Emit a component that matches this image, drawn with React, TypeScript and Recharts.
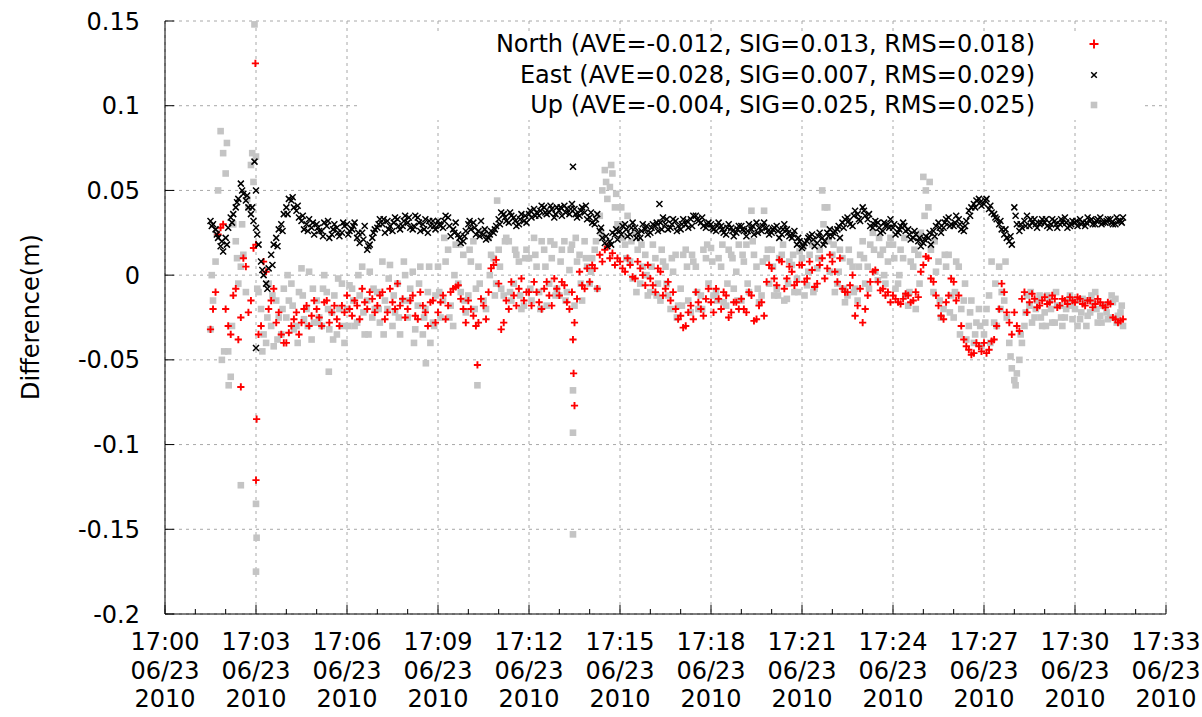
import { ScatterChart, Scatter, XAxis, YAxis, CartesianGrid } from "recharts";

// interleaved sample sets, each every 10 s; set A from 17:01:30, set B 5 s later, set C 2.5 s later
const startSec = 90;
const stepSec = 10;
const offsetB = 5;
const offsetC = 2.5;

const north = [
  -0.032, -0.010, 0.028,
  -0.020, -0.035, -0.008, -0.025, 0.005, -0.015,
  0.018, -0.030, 0.002, -0.015, -0.028, -0.035,
  -0.040, -0.030, -0.022, -0.028, -0.018, -0.024,
  -0.020, -0.030, -0.015, -0.022, -0.026, -0.018,
  -0.012, -0.024, -0.018, -0.008, -0.020, -0.014,
  -0.018, -0.010, -0.022, -0.016, -0.005, -0.014,
  -0.020, -0.012, -0.026, -0.018, -0.030, -0.015,
  -0.022, -0.012, -0.018, -0.008, -0.006, -0.020,
  -0.015, -0.024, -0.028, -0.018, -0.010, 0.006,
  -0.005, -0.028, -0.020, -0.012, -0.008, -0.015,
  -0.010, -0.004, -0.016, -0.008, -0.012, -0.002,
  -0.012, -0.006, -0.020, -0.028, 0.002, -0.008,
  -0.004, 0.004, 0.012, 0.015, 0.010, 0.006,
  0.008, 0.002, 0.006, -0.002, 0.004, -0.006,
  -0.002, -0.010, 0.002, -0.008, -0.015, -0.020,
  -0.024, -0.030, -0.018, -0.010, -0.020, -0.014,
  -0.016, -0.008, -0.020, -0.012, -0.022, -0.016,
  -0.014, -0.022, -0.012, -0.026, -0.016, -0.004,
  0.004, -0.006, 0.008, -0.002, 0.002, -0.004,
  0.006, -0.002, 0.003, -0.005, 0.010, 0.004,
  0.008, -0.004, -0.008, -0.010, 0.000, -0.018,
  -0.028, -0.012, 0.002, -0.004, -0.008, -0.010,
  -0.012, -0.016, -0.014, -0.012, -0.015, -0.013,
  0.006, 0.010, -0.004, -0.018, -0.026, -0.012,
  -0.004, -0.012, -0.038, -0.044, -0.046, -0.042,
  -0.040, -0.044, -0.038, -0.020, -0.010, -0.028,
  -0.022, -0.033, -0.010, -0.016, -0.014, -0.018,
  -0.013, -0.016, -0.014, -0.018, -0.015, -0.013,
  -0.016, -0.014, -0.018, -0.015, -0.017, -0.016,
  -0.019, -0.017, -0.026, -0.027,
];

const northB = [
  -0.020, 0.024, 0.030,
  -0.030, -0.012, -0.038, 0.010, -0.022, 0.016,
  -0.035, 0.008, -0.020, -0.008, -0.022, -0.040,
  -0.034, -0.026, -0.035, -0.020, -0.030, -0.015,
  -0.025, -0.016, -0.028, -0.018, -0.030, -0.022,
  -0.020, -0.015, -0.026, -0.016, -0.010, -0.022,
  -0.012, -0.026, -0.008, -0.020, -0.018, -0.025,
  -0.015, -0.024, -0.010, -0.022, -0.016, -0.028,
  -0.016, -0.026, -0.010, -0.007, -0.014, -0.028,
  -0.020, -0.030, -0.014, -0.026, 0.004, 0.009,
  -0.032, -0.015, -0.004, -0.018, -0.002, -0.010,
  -0.018, -0.010, -0.020, -0.004, -0.018, -0.008,
  -0.004, -0.016, -0.010, -0.014, -0.006, 0.004,
  0.006, -0.008, 0.008, 0.017, 0.013, 0.010,
  0.004, 0.010, -0.001, 0.008, 0.000, 0.006,
  -0.006, 0.004, -0.012, -0.004, -0.010, -0.026,
  -0.031, -0.022, -0.026, -0.016, -0.024, -0.008,
  -0.022, -0.014, -0.010, -0.025, -0.016, -0.020,
  -0.020, -0.010, -0.027, -0.018, -0.024, 0.006,
  -0.002, 0.009, -0.008, 0.005, -0.006, 0.006,
  -0.004, 0.008, -0.007, 0.006, -0.002, 0.012,
  0.002, 0.010, -0.010, -0.006, -0.024, -0.008,
  -0.020, -0.004, 0.003, -0.009, -0.012, -0.016,
  -0.014, -0.017, -0.011, -0.016, -0.010, 0.002,
  0.011, -0.002, -0.012, -0.024, -0.016, -0.002,
  -0.015, -0.030, -0.042, -0.047, -0.040, -0.045,
  -0.046, -0.039, -0.030, -0.005, -0.022, -0.035,
  -0.030, -0.014, -0.022, -0.011, -0.019, -0.015,
  -0.017, -0.012, -0.019, -0.014, -0.017, -0.015,
  -0.013, -0.017, -0.015, -0.019, -0.014, -0.018,
  -0.016, -0.025, -0.028, -0.026,
];

const east = [
  0.032, 0.027, 0.017,
  0.022, 0.034, 0.040, 0.054, 0.044, 0.036,
  0.028, 0.008, -0.005, 0.012, 0.022, 0.030,
  0.040, 0.044, 0.038, 0.032, 0.030, 0.028,
  0.030, 0.026, 0.029, 0.024, 0.028, 0.025,
  0.030, 0.027, 0.022, 0.025, 0.015, 0.022,
  0.028, 0.030, 0.032, 0.026, 0.033, 0.029,
  0.031, 0.027, 0.034, 0.030, 0.025, 0.032,
  0.032, 0.028, 0.034, 0.027, 0.024, 0.020,
  0.030, 0.031, 0.026, 0.024, 0.022, 0.025,
  0.033, 0.036, 0.031, 0.034, 0.030, 0.032,
  0.036, 0.039, 0.035, 0.040, 0.037, 0.034,
  0.038, 0.041, 0.036, 0.039, 0.035, 0.037,
  0.034, 0.030, 0.026, 0.019, 0.020, 0.024,
  0.026, 0.030, 0.024, 0.028, 0.022, 0.027,
  0.025, 0.029, 0.031, 0.030, 0.028, 0.032,
  0.027, 0.030, 0.033, 0.035, 0.031, 0.028,
  0.030, 0.026, 0.029, 0.024, 0.028, 0.025,
  0.029, 0.023, 0.027, 0.031, 0.026, 0.028,
  0.025, 0.029, 0.024, 0.027, 0.022, 0.018,
  0.016, 0.020, 0.024, 0.019, 0.022, 0.025,
  0.023, 0.027, 0.031, 0.034, 0.029, 0.036,
  0.040, 0.033, 0.028, 0.031, 0.026, 0.030,
  0.028, 0.025, 0.031, 0.027, 0.022, 0.020,
  0.019, 0.022, 0.026, 0.031, 0.028, 0.034,
  0.029, 0.033, 0.026, 0.038, 0.042, 0.045,
  0.042, 0.039, 0.036, 0.030, 0.024, 0.020,
  0.040, 0.026, 0.032, 0.029, 0.033, 0.030,
  0.031, 0.028, 0.032, 0.030, 0.034, 0.029,
  0.031, 0.033, 0.029, 0.032, 0.030, 0.034,
  0.031, 0.033, 0.030, 0.032,
];

const eastB = [
  0.030, 0.022, 0.014,
  0.028, 0.036, 0.045, 0.048, 0.040, 0.032,
  0.018, 0.000, 0.004, 0.018, 0.027, 0.036,
  0.045, 0.040, 0.034, 0.027, 0.033, 0.024,
  0.026, 0.031, 0.022, 0.030, 0.023, 0.029,
  0.026, 0.031, 0.019, 0.029, 0.018, 0.027,
  0.033, 0.025, 0.029, 0.034, 0.027, 0.035,
  0.028, 0.035, 0.026, 0.033, 0.029, 0.027,
  0.029, 0.035, 0.023, 0.031, 0.019, 0.026,
  0.027, 0.024, 0.032, 0.021, 0.026, 0.029,
  0.037, 0.032, 0.035, 0.029, 0.036, 0.031,
  0.034, 0.037, 0.041, 0.036, 0.039, 0.040,
  0.035, 0.039, 0.042, 0.034, 0.040, 0.033,
  0.031, 0.036, 0.022, 0.017, 0.025, 0.021,
  0.029, 0.023, 0.031, 0.025, 0.030, 0.024,
  0.030, 0.026, 0.034, 0.027, 0.033, 0.029,
  0.033, 0.028, 0.035, 0.032, 0.029, 0.031,
  0.027, 0.031, 0.025, 0.030, 0.023, 0.029,
  0.026, 0.030, 0.024, 0.028, 0.031, 0.024,
  0.028, 0.022, 0.030, 0.023, 0.026, 0.020,
  0.019, 0.023, 0.017, 0.025, 0.020, 0.027,
  0.026, 0.022, 0.033, 0.030, 0.038, 0.032,
  0.035, 0.029, 0.032, 0.025, 0.029, 0.033,
  0.024, 0.029, 0.026, 0.021, 0.024, 0.017,
  0.023, 0.018, 0.029, 0.025, 0.033, 0.030,
  0.035, 0.027, 0.032, 0.040, 0.044, 0.041,
  0.045, 0.037, 0.033, 0.027, 0.022, 0.018,
  0.030, 0.028, 0.035, 0.031, 0.028, 0.033,
  0.029, 0.033, 0.028, 0.031, 0.028, 0.032,
  0.029, 0.031, 0.034, 0.030, 0.033, 0.031,
  0.033, 0.030, 0.032, 0.034,
];

const eastC = [
  0.029, 0.024, 0.020,
  0.018, 0.031, 0.043, 0.050, 0.047, 0.040,
  0.024, 0.003, -0.008, 0.006, 0.017, 0.026,
  0.036, 0.046, 0.041, 0.035, 0.026, 0.031,
  0.028, 0.023, 0.032, 0.027, 0.025, 0.031,
  0.024, 0.029, 0.025, 0.021, 0.017, 0.025,
  0.030, 0.033, 0.027, 0.031, 0.029, 0.032,
  0.034, 0.029, 0.031, 0.027, 0.032, 0.029,
  0.030, 0.032, 0.029, 0.025, 0.022, 0.023,
  0.032, 0.028, 0.023, 0.027, 0.024, 0.027,
  0.030, 0.034, 0.037, 0.032, 0.033, 0.035,
  0.038, 0.035, 0.038, 0.037, 0.041, 0.036,
  0.040, 0.037, 0.039, 0.036, 0.038, 0.041,
  0.037, 0.033, 0.028, 0.023, 0.018, 0.027,
  0.024, 0.027, 0.028, 0.022, 0.026, 0.029,
  0.028, 0.031, 0.027, 0.033, 0.030, 0.026,
  0.030, 0.032, 0.029, 0.033, 0.034, 0.030,
  0.028, 0.029, 0.027, 0.028, 0.026, 0.027,
  0.027, 0.026, 0.029, 0.025, 0.029, 0.026,
  0.027, 0.026, 0.027, 0.025, 0.024, 0.022,
  0.017, 0.022, 0.021, 0.023, 0.018, 0.023,
  0.025, 0.029, 0.028, 0.032, 0.035, 0.033,
  0.038, 0.036, 0.030, 0.028, 0.031, 0.028,
  0.030, 0.027, 0.029, 0.024, 0.026, 0.022,
  0.021, 0.025, 0.023, 0.028, 0.031, 0.029,
  0.031, 0.030, 0.029, 0.035, 0.040, 0.043,
  0.044, 0.041, 0.034, 0.032, 0.027, 0.023,
  0.035, 0.030, 0.029, 0.033, 0.030, 0.031,
  0.033, 0.030, 0.030, 0.033, 0.031, 0.030,
  0.032, 0.030, 0.031, 0.033, 0.032, 0.030,
  0.032, 0.031, 0.034, 0.031,
];

const up = [
  -0.032, 0.008, 0.085,
  0.060, -0.060, 0.020, 0.005, -0.010, 0.065,
  0.070, -0.020, -0.040, -0.030, -0.015, -0.035,
  -0.025, -0.005, -0.030, 0.004, -0.020, -0.038,
  -0.015, -0.030, -0.010, -0.022, -0.035, -0.005,
  -0.020, -0.008, -0.028, 0.005, -0.015, -0.025,
  -0.010, 0.008, -0.020, -0.030, -0.005, -0.015,
  -0.025, 0.002, -0.018, -0.035, -0.010, -0.028,
  0.005, -0.015, 0.015, -0.030, -0.005, 0.012,
  -0.012, 0.020, 0.005, -0.015, 0.022, 0.010,
  0.015, -0.012, 0.020, -0.005, 0.008, -0.018,
  0.010, 0.022, -0.010, 0.015, -0.005, 0.018,
  -0.012, 0.020, 0.003, -0.018, 0.012, 0.020,
  -0.005, 0.015, 0.035, 0.062, 0.052, 0.040,
  0.030, 0.018, 0.008, 0.025, -0.005, 0.012,
  -0.010, 0.010, -0.015, 0.005, -0.020, 0.012,
  -0.008, 0.015, -0.022, 0.005, -0.012, 0.010,
  0.016, -0.010, 0.005, -0.018, 0.012, 0.002,
  -0.015, 0.018, 0.038, 0.005, -0.012, 0.010,
  0.015, -0.008, 0.012, -0.014, 0.006, -0.002,
  0.010, -0.006, 0.018, 0.004, 0.050, 0.040,
  0.012, -0.005, 0.010, -0.012, 0.005, -0.015,
  0.020, 0.005, 0.025, -0.003, 0.015, 0.008,
  0.018, -0.005, 0.010, -0.018, 0.005, 0.012,
  0.058, 0.040, -0.010, 0.008, -0.020, 0.012,
  -0.025, 0.005, -0.015, -0.030, -0.040, -0.020,
  -0.035, -0.012, -0.028, 0.005, -0.015, -0.040,
  -0.062, -0.050, -0.030, -0.018, -0.025, -0.012,
  -0.022, -0.015, -0.028, -0.018, -0.025, -0.012,
  -0.020, -0.026, -0.015, -0.022, -0.010, -0.024,
  -0.018, -0.025, -0.014, -0.022,
];

const upB = [
  -0.015, 0.050, 0.072,
  -0.045, 0.030, -0.005, 0.012, 0.040, 0.055,
  -0.010, -0.035, -0.005, -0.042, -0.025, -0.008,
  -0.015, -0.032, -0.010, -0.026, 0.002, -0.028,
  -0.025, 0.000, -0.032, -0.012, -0.020, -0.040,
  -0.006, -0.030, -0.012, -0.035, 0.002, -0.020,
  -0.028, -0.015, 0.006, -0.022, -0.035, 0.000,
  -0.008, -0.032, 0.005, -0.020, -0.040, -0.012,
  -0.025, 0.008, -0.018, 0.018, -0.010, -0.022,
  0.008, -0.008, 0.025, -0.020, 0.012, -0.005,
  -0.008, 0.022, -0.015, 0.012, -0.020, 0.015,
  -0.015, 0.005, 0.020, -0.018, 0.010, -0.008,
  0.015, -0.010, 0.018, 0.008, -0.015, 0.005,
  0.010, -0.008, 0.050, 0.045, 0.060, 0.030,
  0.022, 0.035, -0.002, 0.015, 0.005, -0.012,
  0.018, -0.005, 0.008, -0.012, 0.002, -0.018,
  0.012, -0.015, 0.008, -0.020, 0.015, -0.005,
  -0.012, 0.010, -0.016, 0.015, -0.008, 0.018,
  0.008, -0.010, 0.012, -0.016, 0.038, -0.005,
  -0.012, 0.010, -0.015, 0.008, -0.010, 0.014,
  -0.012, 0.012, -0.008, 0.015, 0.040, 0.002,
  -0.010, 0.015, -0.016, 0.008, -0.008, 0.012,
  -0.005, 0.018, 0.002, 0.012, -0.005, 0.022,
  -0.008, 0.015, -0.012, 0.008, -0.020, 0.025,
  0.050, 0.015, 0.002, -0.025, 0.005, -0.012,
  0.008, -0.020, -0.038, -0.015, -0.028, -0.042,
  -0.020, 0.008, -0.030, -0.010, -0.025, -0.055,
  -0.058, -0.040, -0.012, -0.028, -0.015, -0.030,
  -0.012, -0.028, -0.018, -0.030, -0.015, -0.026,
  -0.030, -0.014, -0.024, -0.016, -0.028, -0.018,
  -0.026, -0.016, -0.024, -0.030,
];

const upC = [
  0.000, 0.025, -0.050,
  0.078, -0.030, 0.010, 0.030, 0.045, 0.072,
  -0.008, -0.045, -0.025, -0.012, -0.038, -0.020,
  0.000, -0.018, -0.040, -0.012, -0.030, -0.008,
  -0.028, -0.008, -0.020, -0.038, -0.002, -0.030,
  -0.030, -0.015, 0.000, -0.022, -0.035, -0.008,
  -0.020, -0.035, -0.002, -0.012, -0.025, 0.008,
  -0.015, -0.040, -0.005, -0.025, 0.005, -0.030,
  -0.010, 0.022, -0.025, 0.000, 0.018, -0.015,
  0.015, -0.020, -0.005, 0.025, 0.000, -0.012,
  0.005, 0.020, -0.010, 0.015, -0.012, 0.010,
  -0.008, 0.012, -0.020, 0.005, 0.020, -0.012,
  0.008, -0.015, 0.015, 0.022, -0.005, 0.010,
  0.002, 0.020, 0.025, 0.055, 0.065, 0.048,
  0.040, 0.010, 0.020, -0.010, 0.018, 0.000,
  0.005, -0.012, 0.015, -0.005, 0.010, -0.025,
  -0.018, 0.005, 0.012, -0.010, -0.020, 0.018,
  0.008, -0.015, 0.018, -0.005, 0.010, -0.015,
  0.012, -0.005, 0.020, -0.008, 0.008, 0.015,
  0.005, -0.012, 0.018, -0.005, 0.012, -0.010,
  0.018, 0.002, -0.010, 0.010, 0.030, 0.020,
  0.018, 0.002, -0.008, 0.015, -0.010, 0.005,
  0.010, -0.008, 0.015, 0.022, 0.000, 0.018,
  0.010, 0.000, 0.022, -0.010, 0.015, -0.005,
  0.035, 0.055, 0.020, -0.015, 0.012, -0.022,
  -0.010, -0.035, -0.005, -0.022, -0.035, -0.030,
  -0.028, -0.040, -0.005, -0.020, 0.008, -0.048,
  -0.065, -0.035, -0.022, -0.010, -0.020, -0.025,
  -0.030, -0.020, -0.010, -0.025, -0.020, -0.018,
  -0.015, -0.022, -0.030, -0.012, -0.020, -0.028,
  -0.022, -0.012, -0.028, -0.018,
];

// isolated points (minutes after 17:00, metres)
const northOutT = [2.5, 2.98, 3.02, 3.0, 10.3, 13.45, 13.47, 13.5];
const northOutV = [-0.066, 0.125, -0.085, -0.121, -0.053, -0.038, -0.058, -0.077];
const eastOutT = [2.95, 3.0, 3.0, 13.45, 16.3];
const eastOutV = [0.067, 0.05, -0.043, 0.064, 0.042];
const upOutT = [1.95, 2.1, 2.5, 2.95, 3.0, 3.02, 3.0, 5.4, 8.6, 10.3, 10.95, 13.45, 13.45, 13.45];
const upOutV = [-0.045, -0.065, -0.124, 0.148, -0.135, -0.155, -0.175, -0.057, -0.052, -0.065, 0.044, -0.068, -0.093, -0.153];

const xTicks = [0, 3, 6, 9, 12, 15, 18, 21, 24, 27, 30, 33];
const xTickLabels = ["17:00", "17:03", "17:06", "17:09", "17:12", "17:15", "17:18", "17:21", "17:24", "17:27", "17:30", "17:33"];
const dateLabel = "06/23";
const yearLabel = "2010";
const yTicks = [0.15, 0.1, 0.05, 0, -0.05, -0.1, -0.15, -0.2];
const yTickLabels = ["0.15", "0.1", "0.05", "0", "-0.05", "-0.1", "-0.15", "-0.2"];

const legendLabels = [
  "North (AVE=-0.012, SIG=0.013, RMS=0.018)",
  "East (AVE=0.028, SIG=0.007, RMS=0.029)",
  "Up (AVE=-0.004, SIG=0.025, RMS=0.025)",
];

const minutes = Array.from({ length: 34 }, (_, i) => i);

const sampled = (vals: number[], offset: number) =>
  vals.map((v, i) => ({ t: (startSec + offset + i * stepSec) / 60, v }));
const isolated = (outT: number[], outV: number[]) => outT.map((t, i) => ({ t, v: outV[i] }));

const northPts = [...sampled(north, 0), ...sampled(northB, offsetB), ...isolated(northOutT, northOutV)];
const eastPts = [
  ...sampled(east, 0),
  ...sampled(eastB, offsetB),
  ...sampled(eastC, offsetC),
  ...isolated(eastOutT, eastOutV),
];
const upPts = [
  ...sampled(up, 0),
  ...sampled(upB, offsetB),
  ...sampled(upC, offsetC),
  ...isolated(upOutT, upOutV),
];

const FONT = "DejaVu Sans";
const GREY = "#c4c4c4";

const Plus = ({ cx, cy }: any) => (
  <path d={`M${cx - 3.6},${cy}H${cx + 3.6}M${cx},${cy - 3.6}V${cy + 3.6}`} stroke="#ff0000" strokeWidth={1.9} />
);
const Cross = ({ cx, cy }: any) => (
  <path
    d={`M${cx - 3},${cy - 3}L${cx + 3},${cy + 3}M${cx + 3},${cy - 3}L${cx - 3},${cy + 3}`}
    stroke="#000"
    strokeWidth={1.5}
  />
);
const Square = ({ cx, cy }: any) => <rect x={cx - 3.3} y={cy - 3.3} width={6.6} height={6.6} fill={GREY} />;

const BottomTick = ({ x, y, payload }: any) => {
  const idx = xTicks.indexOf(payload.value);
  const major = idx >= 0;
  return (
    <g>
      <line x1={x} x2={x} y1={y} y2={y - (major ? 9 : 5)} stroke="#000" />
      {major && (
        <text x={x} y={y + 36} textAnchor="middle" fontFamily={FONT} fontSize={24} fill="#000">
          <tspan x={x}>{xTickLabels[idx]}</tspan>
          <tspan x={x} dy={28.5}>{dateLabel}</tspan>
          <tspan x={x} dy={28.5}>{yearLabel}</tspan>
        </text>
      )}
    </g>
  );
};

const TopTick = ({ x, y, payload }: any) => {
  const major = xTicks.indexOf(payload.value) >= 0;
  return <line x1={x} x2={x} y1={y} y2={y + (major ? 9 : 5)} stroke="#000" />;
};

const LeftTick = ({ x, y, payload }: any) => {
  const idx = yTicks.indexOf(payload.value);
  return (
    <g>
      <line x1={x} x2={x + 9} y1={y} y2={y} stroke="#000" />
      <text x={x - 25} y={y + 8.5} textAnchor="end" fontFamily={FONT} fontSize={24} fill="#000">
        {yTickLabels[idx]}
      </text>
    </g>
  );
};

const RightTick = ({ x, y }: any) => <line x1={x} x2={x - 9} y1={y} y2={y} stroke="#000" />;

const legendMarks = [
  <path key="n" d="M1.5,6H10.5M6,1.5V10.5" stroke="#ff0000" strokeWidth={1.9} />,
  <path key="e" d="M3.2,3.2L8.8,8.8M8.8,3.2L3.2,8.8" stroke="#000" strokeWidth={1.5} />,
  <rect key="u" x={2.7} y={2.7} width={6.6} height={6.6} fill={GREY} />,
];

export default function App() {
  return (
    <div style={{ position: "absolute", left: 0, top: 0, width: 1202, height: 717, background: "#fff", fontFamily: FONT }}>
      <ScatterChart width={1202} height={717} margin={{ top: 21, right: 36, bottom: 0, left: 0 }}>
        <CartesianGrid
          stroke="#a8a8a8"
          strokeDasharray="3 4"
          verticalCoordinatesGenerator={({ offset }: any) => xTicks.map((m) => offset.left + (m / 33) * offset.width)}
        />
        <XAxis
          dataKey="t"
          type="number"
          domain={[0, 33]}
          ticks={minutes}
          interval={0}
          allowDataOverflow
          height={103}
          tickSize={0}
          tickMargin={0}
          tickLine={false}
          axisLine={{ stroke: "#000" }}
          tick={(p: any) => <BottomTick {...p} />}
        />
        <XAxis
          xAxisId="top"
          orientation="top"
          type="number"
          domain={[0, 33]}
          ticks={minutes}
          interval={0}
          height={0}
          tickSize={0}
          tickMargin={0}
          tickLine={false}
          axisLine={{ stroke: "#000" }}
          tick={(p: any) => <TopTick {...p} />}
        />
        <YAxis
          dataKey="v"
          type="number"
          domain={[-0.2, 0.15]}
          ticks={yTicks}
          interval={0}
          allowDataOverflow
          width={165}
          tickSize={0}
          tickMargin={0}
          tickLine={false}
          axisLine={{ stroke: "#000" }}
          tick={(p: any) => <LeftTick {...p} />}
        />
        <YAxis
          yAxisId="right"
          orientation="right"
          type="number"
          domain={[-0.2, 0.15]}
          ticks={yTicks}
          interval={0}
          width={0}
          tickSize={0}
          tickMargin={0}
          tickLine={false}
          axisLine={{ stroke: "#000" }}
          tick={(p: any) => <RightTick {...p} />}
        />
        <Scatter data={upPts} dataKey="v" isAnimationActive={false} shape={(p: any) => <Square {...p} />} />
        <Scatter data={northPts} dataKey="v" isAnimationActive={false} shape={(p: any) => <Plus {...p} />} />
        <Scatter data={eastPts} dataKey="v" isAnimationActive={false} shape={(p: any) => <Cross {...p} />} />
      </ScatterChart>

      <div style={{ position: "absolute", left: 360, top: 31, width: 785, height: 89, background: "#fff" }}>
        {legendLabels.map((label, i) => (
          <div key={label} style={{ position: "absolute", left: 0, top: 13 + i * 30.5 - 15, height: 30, width: 785 }}>
            <span
              style={{
                position: "absolute",
                right: 110,
                top: 0,
                fontSize: 24,
                lineHeight: "30px",
                whiteSpace: "nowrap",
                color: "#000",
              }}
            >
              {label}
            </span>
            <svg width={12} height={12} style={{ position: "absolute", left: 728, top: 9 }}>
              {legendMarks[i]}
            </svg>
          </div>
        ))}
      </div>

      <div
        style={{
          position: "absolute",
          left: 31,
          top: 317,
          transform: "translate(-50%, -50%) rotate(-90deg)",
          fontSize: 24,
          whiteSpace: "nowrap",
          color: "#000",
        }}
      >
        Difference(m)
      </div>
    </div>
  );
}
